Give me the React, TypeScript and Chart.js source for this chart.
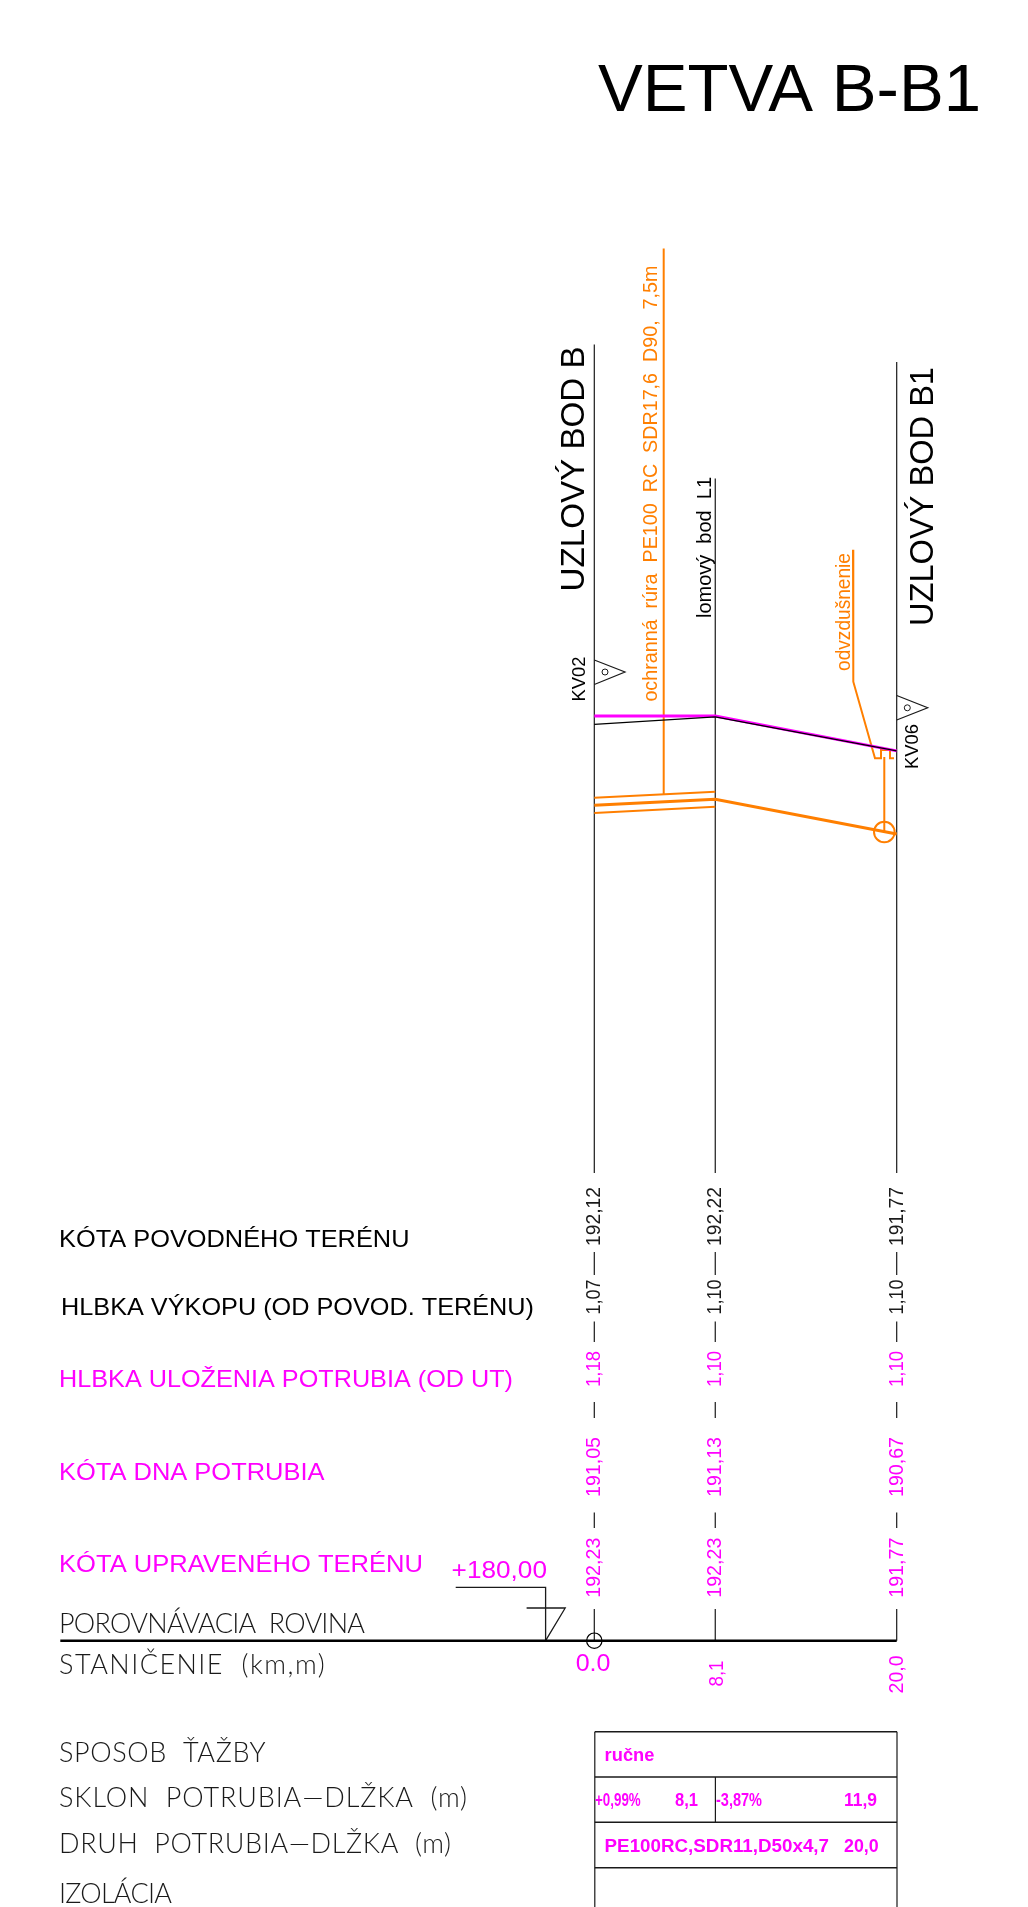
import React, { useEffect, useRef } from "react";
import { Chart, registerables } from "chart.js";

Chart.register(...registerables);

// ---- data ----
const stationPositions = [0, 8, 20];
const stationLabels = ["0.0", "8,1", "20,0"];
const groundLevels = [192.12, 192.22, 191.77];
const excavationDepths = [1.07, 1.1, 1.1];
const pipeDepths = [1.18, 1.1, 1.1];
const pipeLevels = [191.05, 191.13, 190.67];
const finishedLevels = [192.23, 192.23, 191.77];
const casingStations = [0, 8];
const casingTopLevels = [191.15, 191.23];
const casingBottomLevels = [190.95, 191.03];
const datumLevel = 180;

// ---- sheet layout: page pixels <-> metres ----
const W = 1028;
const H = 1907;
const X0 = 594.3;
const PX_PER_M_X = 15.12;
const Y0 = 1640.7;
const PX_PER_M_Y = 75.6;
const dx = (px: number) => (px - X0) / PX_PER_M_X;
const dy = (px: number) => datumLevel + (Y0 - px) / PX_PER_M_Y;

const BLACK = "#000000";
const DARK = "#1a1a1a";
const MAGENTA = "#FF00FF";
const ORANGE = "#FF7F00";
const SANS = '"Liberation Sans", Arial, sans-serif';
const THIN = 'Lato, "Liberation Sans", sans-serif';

type Pt = [number, number];
const line = (pts: Pt[], color: string, width: number, order = 5) => ({
  data: pts.map(([x, y]) => ({ x: dx(x), y: dy(y) })),
  borderColor: color,
  borderWidth: width,
  showLine: true,
  pointRadius: 0,
  fill: false,
  tension: 0,
  order,
});
const series = (xs: number[], ys: number[], color: string, width: number, order: number) => ({
  data: xs.map((x, i) => ({ x, y: ys[i] })),
  borderColor: color,
  borderWidth: width,
  showLine: true,
  pointRadius: 0,
  fill: false,
  tension: 0,
  order,
});
const ring = (x: number, y: number, r: number, color: string, width: number, order = 3) => ({
  data: [{ x, y }],
  showLine: false,
  pointStyle: "circle",
  pointRadius: r,
  pointBorderColor: color,
  pointBackgroundColor: "rgba(0,0,0,0)",
  pointBorderWidth: width,
  order,
});

const columnTops = [344.5, 478.4, 362];
const columnGaps: Pt[] = [
  [1252, 1275],
  [1321.5, 1342],
  [1402, 1418],
  [1512.6, 1528],
  [1609, Y0],
];

function buildDatasets() {
  const ds: any[] = [];
  stationPositions.forEach((s, i) => {
    const px = X0 + s * PX_PER_M_X;
    ds.push(line([[px, columnTops[i]], [px, 1173]], DARK, 1.2));
    columnGaps.forEach(([a, b]) => ds.push(line([[px, a], [px, b]], DARK, 1.2)));
  });
  // profile lines
  ds.push(series(stationPositions, groundLevels, BLACK, 1.3, 1));
  ds.push(series(stationPositions, finishedLevels, MAGENTA, 3, 2));
  ds.push(series(stationPositions, pipeLevels, ORANGE, 3, 2));
  ds.push(series(casingStations, casingTopLevels, ORANGE, 2, 2));
  ds.push(series(casingStations, casingBottomLevels, ORANGE, 2, 2));
  // datum
  ds.push(line([[60.3, Y0], [896.7, Y0]], BLACK, 2.4, 1));
  ds.push(ring(0, datumLevel, 7.7, BLACK, 1.2));
  // leaders
  ds.push(line([[663.7, 248.6], [663.7, 794.3]], ORANGE, 2, 3));
  ds.push(
    line(
      [[853, 549.8], [853.3, 681.7], [875, 758.3], [881, 758.3], [881, 750], [890, 750], [890, 758.3], [894, 758.3]],
      ORANGE,
      2,
      3
    )
  );
  ds.push(line([[884.3, 757], [884.3, 832]], ORANGE, 2, 3));
  ds.push(ring(dx(884.3), dy(832), 10.3, ORANGE, 2));
  // level symbols
  ds.push(line([[594.3, 660], [625, 672], [594.3, 684.5]], DARK, 1.2));
  ds.push(ring(dx(605), dy(672), 3, DARK, 1));
  ds.push(line([[896.7, 695.5], [927.7, 707.8], [896.7, 720]], DARK, 1.2));
  ds.push(ring(dx(907.3), dy(707.8), 3, DARK, 1));
  // datum flag
  ds.push(line([[455.7, 1587.3], [545.6, 1587.3], [545.6, Y0]], DARK, 1.3));
  ds.push(line([[526.6, 1608], [565.2, 1608], [545.6, Y0]], DARK, 1.3));
  // bottom table
  ds.push(line([[594.8, 1731.7], [594.8, H]], DARK, 1.2));
  ds.push(line([[897, 1731.7], [897, H]], DARK, 1.2));
  [1731.7, 1777, 1822.3, 1867.7].forEach((y) =>
    ds.push(line([[594.8, y], [897, y]], DARK, 1.4))
  );
  ds.push(line([[715.4, 1777], [715.4, 1822.3]], DARK, 1.2));
  return ds;
}

type Label = {
  t: string;
  x: number;
  y: number;
  w: number;
  font: string;
  c: string;
  rot?: boolean;
  spaced?: boolean;
};

const f = (v: number) => v.toFixed(2).replace(".", ",");

const valueRows = [
  { values: groundLevels, bottom: 1246, w: 59, c: DARK },
  { values: excavationDepths, bottom: 1314.6, w: 35, c: DARK },
  { values: pipeDepths, bottom: 1387, w: 36, c: MAGENTA },
  { values: pipeLevels, bottom: 1497, w: 60, c: MAGENTA },
  { values: finishedLevels, bottom: 1597.7, w: 60, c: MAGENTA },
];

const cad = (s: number) => `300 ${s}px ${THIN}`;
const ari = (s: number) => `${s}px ${SANS}`;
const bold = (s: number) => `700 ${s}px ${SANS}`;

const fixedLabels: Label[] = [
  { t: "VETVA B-B1", x: 598, y: 110.7, w: 383, font: ari(67), c: BLACK },
  { t: "UZLOVÝ BOD B", x: 584, y: 591.4, w: 245, font: ari(33), c: BLACK, rot: true },
  { t: "UZLOVÝ BOD B1", x: 933, y: 626, w: 259, font: ari(33), c: BLACK, rot: true },
  { t: "lomový  bod  L1", x: 710.7, y: 618, w: 141, font: ari(21), c: BLACK, rot: true },
  { t: "ochranná  rúra  PE100  RC  SDR17,6  D90,  7,5m", x: 656.5, y: 701.6, w: 436, font: ari(21), c: ORANGE, rot: true },
  { t: "odvzdušnenie", x: 850, y: 671, w: 118, font: ari(21), c: ORANGE, rot: true },
  { t: "KV02", x: 585, y: 701.6, w: 45, font: ari(19), c: BLACK, rot: true },
  { t: "KV06", x: 918.3, y: 769, w: 45, font: ari(19), c: BLACK, rot: true },

  { t: "KÓTA POVODNÉHO TERÉNU", x: 59, y: 1246.7, w: 350.5, font: ari(24), c: BLACK },
  { t: "HLBKA VÝKOPU (OD POVOD. TERÉNU)", x: 61, y: 1315, w: 473, font: ari(24), c: BLACK },
  { t: "HLBKA ULOŽENIA POTRUBIA (OD UT)", x: 59, y: 1387, w: 454, font: ari(24), c: MAGENTA },
  { t: "KÓTA DNA POTRUBIA", x: 59, y: 1480, w: 265.5, font: ari(24), c: MAGENTA },
  { t: "KÓTA UPRAVENÉHO TERÉNU", x: 59, y: 1571.7, w: 364, font: ari(24), c: MAGENTA },
  { t: "+180,00", x: 451.6, y: 1578, w: 95.4, font: ari(24), c: MAGENTA },

  { t: "POROVNÁVACIA  ROVINA", x: 59, y: 1633, w: 306, font: cad(27), c: DARK, spaced: true },
  { t: "STANIČENIE  (km,m)", x: 59, y: 1674, w: 265.6, font: cad(27), c: DARK, spaced: true },
  { t: "SPOSOB  ŤAŽBY", x: 59, y: 1761.7, w: 206.6, font: cad(27), c: DARK, spaced: true },
  { t: "SKLON  POTRUBIA—DLŽKA  (m)", x: 59, y: 1807, w: 408, font: cad(27), c: DARK, spaced: true },
  { t: "DRUH  POTRUBIA—DLŽKA  (m)", x: 59, y: 1852.7, w: 392, font: cad(27), c: DARK, spaced: true },
  { t: "IZOLÁCIA", x: 59, y: 1902.7, w: 113, font: cad(27), c: DARK, spaced: true },

  { t: "ručne", x: 604.6, y: 1761, w: 49.8, font: bold(18), c: MAGENTA },
  { t: "+0,99%", x: 595, y: 1806, w: 45.7, font: bold(18), c: MAGENTA },
  { t: "8,1", x: 675, y: 1806, w: 23, font: bold(18), c: MAGENTA },
  { t: "-3,87%", x: 716, y: 1806, w: 46, font: bold(18), c: MAGENTA },
  { t: "11,9", x: 844, y: 1806, w: 33, font: bold(18), c: MAGENTA },
  { t: "PE100RC,SDR11,D50x4,7", x: 604.6, y: 1851.7, w: 224.4, font: bold(18), c: MAGENTA },
  { t: "20,0", x: 844, y: 1851.7, w: 34.7, font: bold(18), c: MAGENTA },
];

function drawLabel(ctx: CanvasRenderingContext2D, l: Label) {
  ctx.save();
  ctx.font = l.font;
  ctx.fillStyle = l.c;
  ctx.textBaseline = "alphabetic";
  ctx.textAlign = "left";
  const natural = ctx.measureText(l.t).width;
  ctx.translate(l.x, l.y);
  if (l.rot) ctx.rotate(-Math.PI / 2);
  if (l.spaced) {
    (ctx as any).letterSpacing = `${(l.w - natural) / Math.max(1, l.t.length - 1)}px`;
  } else {
    ctx.scale(l.w / natural, 1);
  }
  ctx.fillText(l.t, 0, 0);
  ctx.restore();
}

const textPlugin = {
  id: "sheetText",
  afterDatasetsDraw(chart: any) {
    const ctx = chart.ctx as CanvasRenderingContext2D;
    const xs = chart.scales.x;
    fixedLabels.forEach((l) => drawLabel(ctx, l));
    stationPositions.forEach((s, i) => {
      const px = xs.getPixelForValue(s);
      valueRows.forEach((r) =>
        drawLabel(ctx, {
          t: f(r.values[i]),
          x: px + 6,
          y: r.bottom,
          w: r.w,
          font: ari(21),
          c: r.c,
          rot: true,
        })
      );
    });
    drawLabel(ctx, { t: stationLabels[0], x: 575.7, y: 1671, w: 34.8, font: ari(24), c: MAGENTA });
    drawLabel(ctx, { t: stationLabels[1], x: xs.getPixelForValue(stationPositions[1]) + 7.6, y: 1686.5, w: 26, font: ari(21), c: MAGENTA, rot: true });
    drawLabel(ctx, { t: stationLabels[2], x: xs.getPixelForValue(stationPositions[2]) + 6, y: 1693.4, w: 38, font: ari(21), c: MAGENTA, rot: true });
  },
};

export default function App() {
  const ref = useRef<HTMLCanvasElement | null>(null);
  useEffect(() => {
    document.body.style.margin = "0";
    document.body.style.background = "#ffffff";
    const chart = new Chart(ref.current as HTMLCanvasElement, {
      type: "scatter",
      data: { datasets: buildDatasets() },
      options: {
        animation: false,
        responsive: false,
        devicePixelRatio: 1,
        layout: { padding: 0, autoPadding: false },
        plugins: { legend: { display: false }, tooltip: { enabled: false }, title: { display: false } },
        scales: {
          x: { type: "linear", display: false, min: dx(0), max: dx(W) },
          y: { type: "linear", display: false, min: dy(H), max: dy(0) },
        },
      } as any,
      plugins: [textPlugin],
    });
    return () => chart.destroy();
  }, []);
  return <canvas ref={ref} width={W} height={H} style={{ display: "block", width: W, height: H }} />;
}
